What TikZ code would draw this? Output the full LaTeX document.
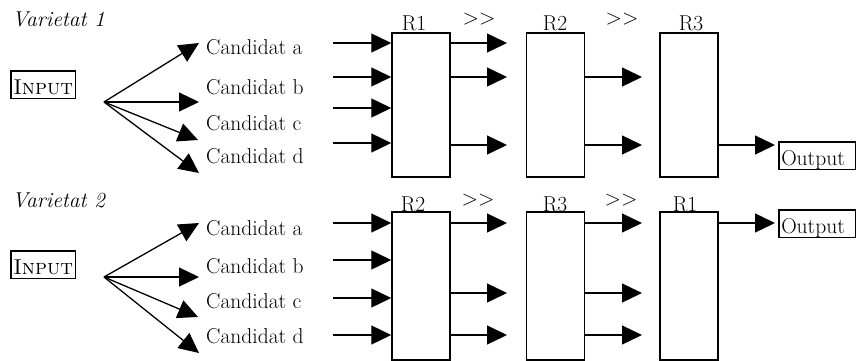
\documentclass[tikz,border=0pt]{standalone}
\usetikzlibrary{arrows.meta}
\begin{document}
\begin{tikzpicture}[x=1pt,y=-1pt,
  every node/.style={font=\fontsize{21.5}{25}\selectfont},
  arr/.style={line width=1.3pt,-{Triangle[length=20pt,width=19pt]}},
  rbox/.style={draw,line width=1.5pt,minimum width=58pt,inner sep=0pt},
  tbox/.style={draw,line width=1.5pt,inner xsep=2.5pt,inner ysep=3pt,text height=20pt,text depth=1.5pt,anchor=base west},
  outbox/.style={tbox,text width=72pt,align=left},
  txt/.style={inner sep=0pt,anchor=base west},
  ctxt/.style={inner sep=0pt,anchor=base}]
\useasboundingbox (0,0) rectangle (856,361);

% ---------------- Varietat 1 ----------------
\node[txt] (v1) at (12,27) {\itshape Varietat 1};
\node[tbox] (in1) at (10,94) {\textsc{Input}};
\coordinate (f1) at (104,102);
\coordinate (t1a) at (199,43);
\coordinate (t1b) at (199,102);
\coordinate (t1c) at (198,140);
\coordinate (t1d) at (199,173);
\draw[arr] (f1) -- (t1a);
\draw[arr] (f1) -- (t1b);
\draw[arr] (f1) -- (t1c);
\draw[arr] (f1) -- (t1d);
\node[txt] (c1a) at (206,55) {Candidat a};
\node[txt] (c1b) at (206,94) {Candidat b};
\node[txt] (c1c) at (206,130) {Candidat c};
\node[txt] (c1d) at (206,163) {Candidat d};

\node[rbox,minimum height=144pt] (A1) at (421,105) {};
\node[rbox,minimum height=144pt] (A2) at (555.5,105) {};
\node[rbox,minimum height=144pt] (A3) at (689,105) {};
\node[ctxt] (lA1) at (414,31) {R1};
\node[ctxt] (lA2) at (555,31) {R2};
\node[ctxt] (lA3) at (691,31) {R3};
\node[ctxt] (gA1) at (479,25) {>\kern0pt>};
\node[ctxt] (gA2) at (622,25) {>\kern0pt>};

\foreach \yy [count=\i] in {43,77,108,143}{
  \coordinate (s1\i) at (333,\yy);
  \draw[arr] (s1\i) -- (s1\i -| A1.west);
}
\foreach \yy [count=\i] in {43,77,145}{
  \coordinate (e1\i) at (507,\yy);
  \draw[arr] (e1\i -| A1.east) -- (e1\i);
}
\foreach \yy [count=\i] in {77,145}{
  \coordinate (g1\i) at (642,\yy);
  \draw[arr] (g1\i -| A2.east) -- (g1\i);
}
\node[outbox] (out1) at (778,165) {Output};
\coordinate (h1) at (775,145);
\draw[arr] (h1 -| A3.east) -- (h1);

% ---------------- Varietat 2 ----------------
\node[txt] (v2) at (12,207) {\itshape Varietat 2};
\node[tbox] (in2) at (10,274) {\textsc{Input}};
\coordinate (f2) at (104,277);
\coordinate (t2a) at (199,223);
\coordinate (t2b) at (199,277);
\coordinate (t2c) at (198,317);
\coordinate (t2d) at (199,353);
\draw[arr] (f2) -- (t2a);
\draw[arr] (f2) -- (t2b);
\draw[arr] (f2) -- (t2c);
\draw[arr] (f2) -- (t2d);
\node[txt] (c2a) at (206,235) {Candidat a};
\node[txt] (c2b) at (206,273) {Candidat b};
\node[txt] (c2c) at (206,308) {Candidat c};
\node[txt] (c2d) at (206,343) {Candidat d};

\node[rbox,minimum height=148pt] (B1) at (421,286) {};
\node[rbox,minimum height=148pt] (B2) at (555.5,286) {};
\node[rbox,minimum height=148pt] (B3) at (689,286) {};
\node[ctxt] (lB1) at (413,211) {R2};
\node[ctxt] (lB2) at (555,211) {R3};
\node[ctxt] (lB3) at (685,211) {R1};
\node[ctxt] (gB1) at (478,205) {>\kern0pt>};
\node[ctxt] (gB2) at (621,205) {>\kern0pt>};

\foreach \yy [count=\i] in {223,260,298,335}{
  \coordinate (s2\i) at (333,\yy);
  \draw[arr] (s2\i) -- (s2\i -| B1.west);
}
\foreach \yy [count=\i] in {223,293,335}{
  \coordinate (e2\i) at (507,\yy);
  \draw[arr] (e2\i -| B1.east) -- (e2\i);
  \coordinate (g2\i) at (642,\yy);
  \draw[arr] (g2\i -| B2.east) -- (g2\i);
}
\node[outbox] (out2) at (778,233) {Output};
\coordinate (h2) at (775,223);
\draw[arr] (h2 -| B3.east) -- (h2);
\end{tikzpicture}
\end{document}
